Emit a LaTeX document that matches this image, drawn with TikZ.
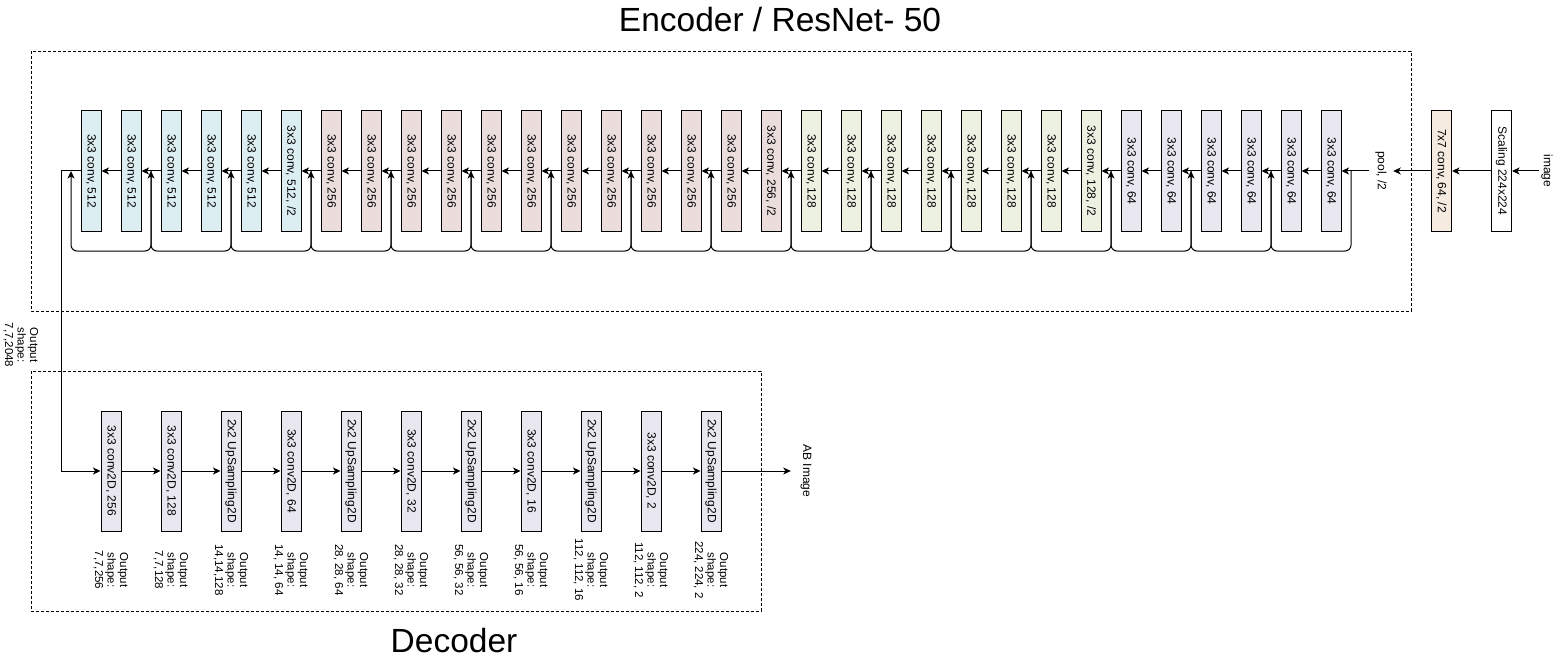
\documentclass[tikz,border=0pt]{standalone}
\usepackage{fontspec}
\setmainfont{Liberation Sans}
\usetikzlibrary{arrows.meta}

\definecolor{cblue}{HTML}{DCEEF2}
\definecolor{cpink}{HTML}{EBDDDC}
\definecolor{cgreen}{HTML}{EDF1E2}
\definecolor{cpurple}{HTML}{E8E6EF}
\definecolor{corange}{HTML}{F6EBE0}

\newcommand\boxfont{\fontsize{12}{14}\selectfont}
\newcommand\outfont{\fontsize{11.5}{12.5}\selectfont}
\newcommand\titlefont{\fontsize{33.5}{36}\selectfont}

\tikzset{
	layer/.style={draw, line width=1pt, minimum width=20pt, minimum height=120pt, inner sep=0pt,
		label={[rotate=-90, font=\boxfont]center:#1}},
	vtext/.style={rotate=-90, font=\boxfont},
	outlabel/.style={rotate=-90, align=center, font=\outfont, inner sep=0pt},
	frame/.style={draw, line width=0.8pt, dash pattern=on 3pt off 2pt},
	flow/.style={-{Stealth[length=7.5pt, width=7pt, inset=2pt]}, line width=1pt},
}

\begin{document}
\begin{tikzpicture}[x=1pt, y=-1pt]

	\useasboundingbox (0,0) rectangle (1562,663);

	% draw frames and titles
	\draw[frame] (31,51) rectangle (1411,311);
	\draw[frame] (31,371) rectangle (761,611);
	\node[font=\titlefont, anchor=base] (enc_title) at (780,32) {Encoder / ResNet- 50};
	\node[font=\titlefont, anchor=base] (dec_title) at (454,652) {Decoder};

	% draw encoder layers
	\foreach \s in {0,...,4}
	{
		\node[layer={3x3 conv, 512}, fill=cblue] (e_\s) at (91+40*\s,171) {};
	}
	\node[layer={3x3 conv, 512, /2}, fill=cblue] (e_5) at (291,171) {};
	\foreach \s in {6,...,16}
	{
		\node[layer={3x3 conv, 256}, fill=cpink] (e_\s) at (91+40*\s,171) {};
	}
	\node[layer={3x3 conv, 256, /2}, fill=cpink] (e_17) at (771,171) {};
	\foreach \s in {18,...,24}
	{
		\node[layer={3x3 conv, 128}, fill=cgreen] (e_\s) at (91+40*\s,171) {};
	}
	\node[layer={3x3 conv, 128, /2}, fill=cgreen] (e_25) at (1091,171) {};
	\foreach \s in {26,...,31}
	{
		\node[layer={3x3 conv, 64}, fill=cpurple] (e_\s) at (91+40*\s,171) {};
	}

	% draw input stem
	\node[minimum width=24pt, minimum height=40pt, inner sep=0pt, label={[vtext]center:{pool, /2}}] (pool) at (1381,171) {};
	\node[layer={7x7 conv, 64, /2}, fill=corange] (c_7) at (1441.5,171) {};
	\node[layer={Scaling 224x224}, fill=white] (scale) at (1501.5,171) {};
	\node[minimum width=16pt, minimum height=40pt, inner sep=0pt, label={[vtext]center:image}] (img) at (1547,171) {};

	\draw[flow] (img.west) -- (scale.east);
	\draw[flow] (scale.west) -- (c_7.east);
	\draw[flow] (c_7.west) -- (pool.east);
	\draw[flow] (pool.west) -- (e_31.east);

	% draw encoder edges
	\foreach \s in {1,...,31}
	{
		\pgfmathtruncatemacro{\p}{\s-1}
		\draw[flow] (e_\s.west) -- (e_\p.east);
	}

	% draw skip connections
	\foreach \s in {0,...,16}
	{
		\coordinate (j_\s) at (71+80*\s,171);
	}
	\foreach \s in {1,...,16}
	{
		\pgfmathtruncatemacro{\p}{\s-1}
		\draw[flow, rounded corners=6pt] (j_\s) -- ++(0,80) -| (j_\p);
	}

	% draw encoder output
	\coordinate (bend) at (61,171);
	\node[outlabel] (enc_out) at (21,345) {Output\\shape:\\7,7,2048};

	% draw decoder layers
	\foreach \s/\t/\o in {
		0/{3x3 conv2D, 256}/{7,7,256},
		1/{3x3 conv2D, 128}/{7,7,128},
		2/{2x2 UpSampling2D}/{14,14,128},
		3/{3x3 conv2D, 64}/{14, 14, 64},
		4/{2x2 UpSampling2D}/{28, 28, 64},
		5/{3x3 conv2D, 32}/{28, 28, 32},
		6/{2x2 UpSampling2D}/{56, 56, 32},
		7/{3x3 conv2D, 16}/{56, 56, 16},
		8/{2x2 UpSampling2D}/{112, 112, 16},
		9/{3x3 conv2D, 2}/{112, 112, 2},
		10/{2x2 UpSampling2D}/{224, 224, 2}}
	{
		\node[layer=\t, fill=cpurple] (d_\s) at (111+60*\s,471) {};
		\node[outlabel] (out_\s) at (111+60*\s,570) {Output\\shape:\\\o};
	}
	\node[minimum width=30pt, minimum height=56pt, inner sep=0pt, label={[vtext]center:AB Image}] (ab) at (806,471) {};

	% draw decoder edges
	\draw[flow] (e_0.west) -- (bend) |- (d_0.west);
	\foreach \s in {1,...,10}
	{
		\pgfmathtruncatemacro{\p}{\s-1}
		\draw[flow] (d_\p.east) -- (d_\s.west);
	}
	\draw[flow] (d_10.east) -- (ab.west);

\end{tikzpicture}
\end{document}
